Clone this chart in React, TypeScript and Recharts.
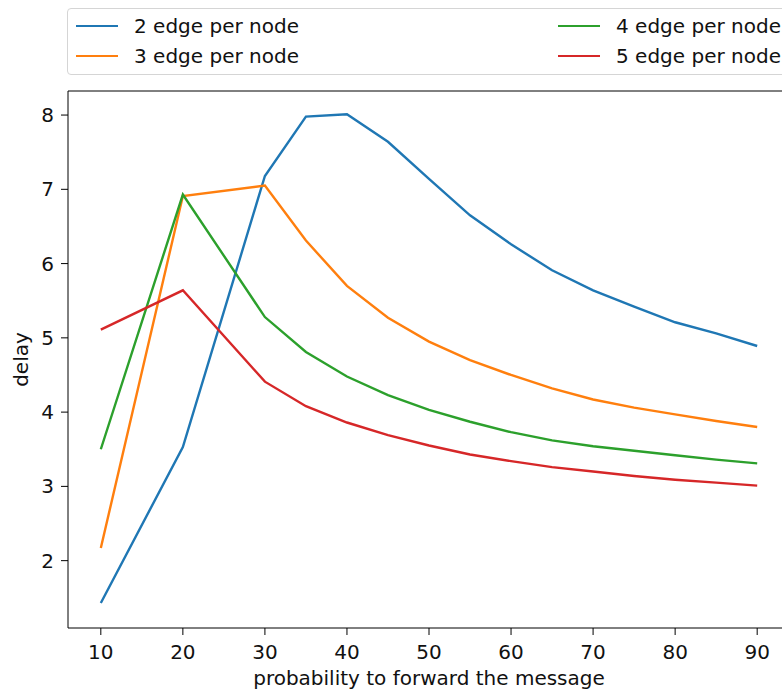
import React from 'react';
import { LineChart, Line, XAxis, YAxis, Legend, Label, ReferenceLine } from 'recharts';

const probability = [10, 20, 30, 35, 40, 45, 50, 55, 60, 65, 70, 75, 80, 85, 90];
const delay2 = [1.43, 3.53, 7.18, 7.98, 8.01, 7.64, 7.14, 6.65, 6.26, 5.91, 5.64, 5.42, 5.21, 5.06, 4.89];
const delay3 = [2.17, 6.91, 7.05, 6.31, 5.7, 5.27, 4.95, 4.7, 4.5, 4.32, 4.17, 4.06, 3.97, 3.88, 3.8];
const delay4 = [3.5, 6.93, 5.28, 4.81, 4.48, 4.23, 4.03, 3.87, 3.73, 3.62, 3.54, 3.48, 3.42, 3.36, 3.31];
const delay5 = [5.11, 5.64, 4.41, 4.08, 3.86, 3.69, 3.55, 3.43, 3.34, 3.26, 3.2, 3.14, 3.09, 3.05, 3.01];

const xTicks = [10, 20, 30, 40, 50, 60, 70, 80, 90];
const yTicks = [2, 3, 4, 5, 6, 7, 8];
const xDomain = [6, 94];
const yDomain = [1.093, 8.324];

const series = [
  { key: 'e2', name: '2 edge per node', color: '#1f77b4' },
  { key: 'e3', name: '3 edge per node', color: '#ff7f0e' },
  { key: 'e4', name: '4 edge per node', color: '#2ca02c' },
  { key: 'e5', name: '5 edge per node', color: '#d62728' },
];

const data = probability.map((x, i) => ({
  x,
  e2: delay2[i],
  e3: delay3[i],
  e4: delay4[i],
  e5: delay5[i],
}));

const font = '"DejaVu Sans", sans-serif';
const ink = '#111';

// matplotlib-like legend box: 2 columns, expanded across the axes
function LegendBox() {
  const cols = [8, 490];
  const rows = [17, 47];
  return (
    <div
      style={{
        position: 'relative',
        width: 740,
        height: 67,
        boxSizing: 'border-box',
        border: '1px solid #d5d5d5',
        borderRadius: 4,
        background: '#fff',
        fontFamily: font,
        fontSize: 20,
        color: ink,
      }}
    >
      {series.map((s, i) => (
        <div
          key={s.key}
          style={{
            position: 'absolute',
            left: cols[i >= 2 ? 1 : 0],
            top: rows[i % 2] - 12,
            height: 24,
            display: 'flex',
            alignItems: 'center',
            whiteSpace: 'nowrap',
          }}
        >
          <span style={{ display: 'inline-block', width: 42, height: 2.4, background: s.color }} />
          <span style={{ marginLeft: 16, lineHeight: '24px' }}>{s.name}</span>
        </div>
      ))}
    </div>
  );
}

export default function App() {
  return (
    <div
      style={{
        position: 'absolute',
        left: 0,
        top: 0,
        width: 782,
        height: 691,
        overflow: 'hidden',
        background: '#fff',
      }}
    >
      <LineChart width={800} height={691} data={data} margin={{ top: 91, right: 10, bottom: 0, left: 8 }}>
        <XAxis
          dataKey="x"
          type="number"
          domain={xDomain}
          ticks={xTicks}
          height={63}
          tickSize={7}
          tickMargin={10}
          stroke="#000"
          tick={{ fill: ink, fontSize: 20, fontFamily: font }}
        >
          <Label
            value="probability to forward the message"
            position="insideBottom"
            offset={6}
            style={{ fill: ink, fontSize: 20, fontFamily: font }}
          />
        </XAxis>
        <YAxis
          type="number"
          domain={yDomain}
          allowDataOverflow
          ticks={yTicks}
          width={60}
          tickSize={7}
          tickMargin={7}
          stroke="#000"
          tick={{ fill: ink, fontSize: 20, fontFamily: font }}
        >
          <Label
            value="delay"
            angle={-90}
            position="insideLeft"
            offset={13}
            style={{ fill: ink, fontSize: 20, fontFamily: font, textAnchor: 'middle' }}
          />
        </YAxis>
        {/* top spine of the axes frame */}
        <ReferenceLine y={yDomain[1]} stroke="#000" strokeWidth={1} />
        <Legend
          layout="vertical"
          verticalAlign="middle"
          align="center"
          wrapperStyle={{ top: 8, left: 67, width: 740 }}
          content={() => <LegendBox />}
        />
        {series.map((s) => (
          <Line
            key={s.key}
            dataKey={s.key}
            name={s.name}
            type="linear"
            stroke={s.color}
            strokeWidth={2.4}
            dot={false}
            activeDot={false}
            isAnimationActive={false}
          />
        ))}
      </LineChart>
    </div>
  );
}
